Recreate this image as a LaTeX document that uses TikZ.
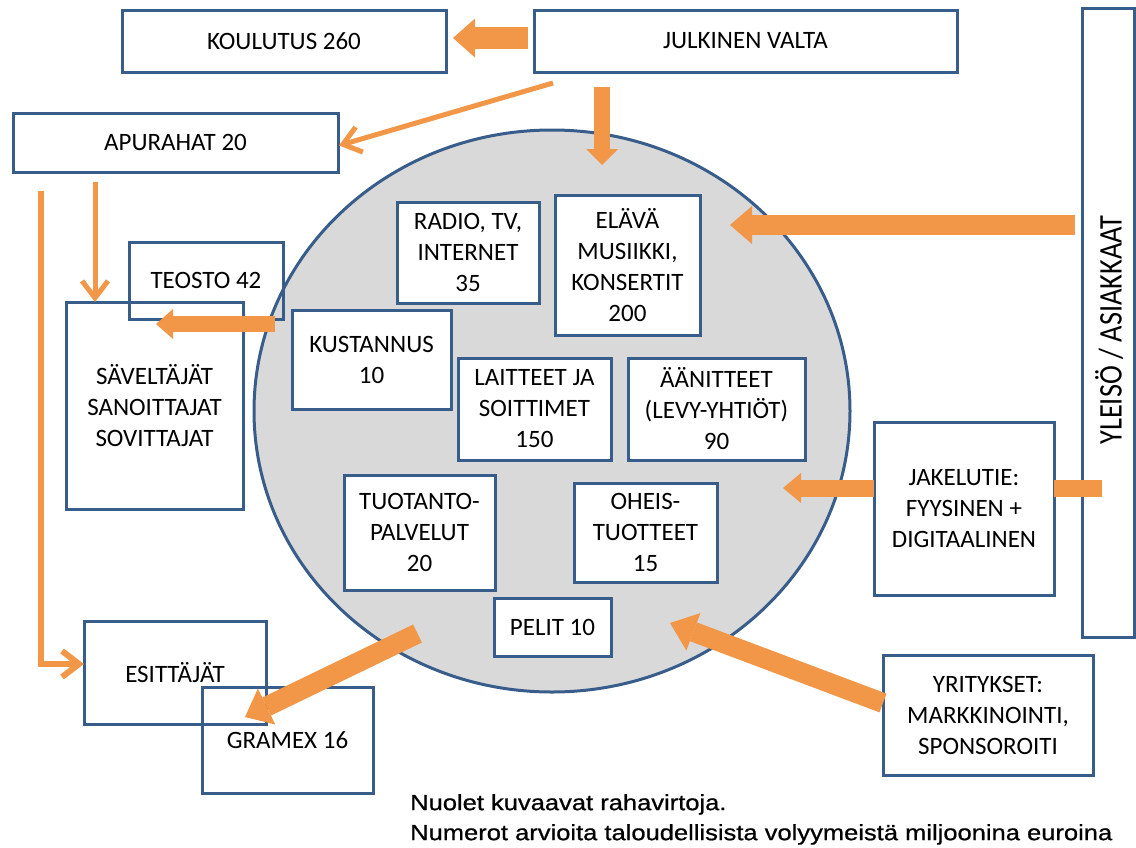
\documentclass[tikz,border=0pt]{standalone}
\usepackage{fontspec}
\setmainfont{Carlito}
\newfontfamily\huomautusfont[FakeStretch=1.16, FakeBold=0.8]{Liberation Sans}
\newfontfamily\yleisofont[FakeStretch=0.86]{Carlito}
\usetikzlibrary{arrows.meta, shapes.geometric}
\definecolor{sininen}{RGB}{56,93,138}
\definecolor{oranssi}{RGB}{242,150,72}
\definecolor{harmaa}{RGB}{217,217,217}
\newcommand{\laatikkofont}{\fontsize{25}{31}\selectfont}

\begin{document}
\begin{tikzpicture}[x=1pt, y=-1pt,
        laatikko/.style={draw=sininen, line width=3pt, inner sep=0pt, outer sep=0pt, align=center, font=\laatikkofont},
        sisa/.style={laatikko, fill=white},
        virta/.style n args={3}{draw=oranssi, line width=#1, -{Triangle[length=#3, width=#2, line width=0pt]}},
        ohut/.style={draw=oranssi, line width=5pt, -{Straight Barb[length=17pt, width=26pt]}}]
        \useasboundingbox (0,0) rectangle (1136,847);

        % musiikkiala
        \node[ellipse, draw=sininen, fill=harmaa, line width=3pt, inner sep=0pt, outer sep=0pt, minimum width=596pt, minimum height=562pt] (ydin) at (552,411) {};

        \node[laatikko, minimum width=324pt, minimum height=62pt] (koulutus) at (284,41) {KOULUTUS 260};
        \node[laatikko, minimum width=423pt, minimum height=62pt] (julkinen) at (745.5,41) {JULKINEN VALTA};
        \node[laatikko, minimum width=325pt, minimum height=59pt] (apurahat) at (175.5,142.5) {APURAHAT 20};
        \node[laatikko, minimum width=154pt, minimum height=77pt] (teosto) at (206,280.5) {TEOSTO 42};
        \node[laatikko, minimum width=177pt, minimum height=207pt] (saveltajat) at (154.5,405.5) {SÄVELTÄJÄT\\SANOITTAJAT\\SOVITTAJAT};
        \node[laatikko, minimum width=182pt, minimum height=103pt] (esittajat) at (175,672.5) {ESITTÄJÄT};
        \node[laatikko, minimum width=171pt, minimum height=106pt] (gramex) at (287.5,740) {GRAMEX 16};

        \node[sisa, minimum width=142pt, minimum height=101pt] (radio) at (468,252.5) {RADIO, TV,\\INTERNET\\35};
        \node[sisa, minimum width=145pt, minimum height=140pt] (elava) at (627.5,265) {ELÄVÄ\\MUSIIKKI,\\KONSERTIT\\200};
        \node[sisa, minimum width=159pt, minimum height=99pt] (kustannus) at (371.5,359.5) {KUSTANNUS\\10};
        \node[sisa, minimum width=153pt, minimum height=102pt] (laitteet) at (534.5,409) {LAITTEET JA\\SOITTIMET\\150};
        \node[sisa, minimum width=177pt, minimum height=102pt] (aanitteet) at (716.5,409) {ÄÄNITTEET\\(LEVY-YHTIÖT)\\90};
        \node[sisa, minimum width=151pt, minimum height=115pt] (tuotanto) at (419.5,532.5) {TUOTANTO-\\PALVELUT\\20};
        \node[sisa, minimum width=143pt, minimum height=99pt] (oheis) at (645.5,532.5) {OHEIS-\\TUOTTEET\\15};
        \node[sisa, minimum width=117pt, minimum height=58pt] (pelit) at (552.5,627) {PELIT 10};

        \node[laatikko, minimum width=180pt, minimum height=173pt] (jakelutie) at (964,508.5) {JAKELUTIE:\\FYYSINEN +\\DIGITAALINEN};
        \node[laatikko, minimum width=210pt, minimum height=120pt] (yritykset) at (988,715) {YRITYKSET:\\MARKKINOINTI,\\SPONSOROITI};
        \node[laatikko, minimum width=52pt, minimum height=629pt] (yleiso) at (1108,322.5) {};
        \node[rotate=90, inner sep=0pt, font=\yleisofont\fontsize{33}{33}\selectfont] (yleisoteksti) at (1109,330) {YLEISÖ / ASIAKKAAT};

        \node[anchor=north west, align=left, inner sep=0pt, font=\huomautusfont\fontsize{22}{30}\selectfont] (huomautus) at (410,794) {Nuolet kuvaavat rahavirtoja.\\Numerot arvioita taloudellisista volyymeistä miljoonina euroina};

        % rahavirrat
        \draw[virta={22pt}{39pt}{22pt}] ([shift={(-6,-3)}]julkinen.west) -- ([shift={(7,-3)}]koulutus.east);
        \draw[virta={16pt}{32pt}{16pt}] ([shift={(-143.5,15)}]julkinen.south) -- ([shift={(50,35)}]ydin.north);
        \draw[virta={20pt}{38pt}{22pt}] ([shift={(-7,-97.5)}]yleiso.west) -- ([shift={(30,-40)}]elava.east);
        \draw[virta={16pt}{30pt}{17pt}] ([shift={(21,-87)}]ydin.west) -- ([shift={(27,5)}]teosto.south west);
        \draw[virta={17pt}{30pt}{18pt}] ([shift={(0,-20.5)}]jakelutie.west) -- ([shift={(-67,77)}]ydin.east);
        \draw[draw=oranssi, line width=17pt] ([shift={(20,165.5)}]yleiso.west) -- ([shift={(0,-20.5)}]jakelutie.east);
        \draw[virta={20pt}{40pt}{24pt}] ([shift={(-134.5,222.5)}]ydin.center) -- ([shift={(-42.5,30)}]gramex.north);
        \draw[virta={20pt}{40pt}{25pt}] ([shift={(0,-12)}]yritykset.west) -- ([shift={(118,212)}]ydin.center);

        \draw[ohut] ([shift={(19,11)}]julkinen.south west) -- ([shift={(1,3)}]apurahat.east);
        \draw[ohut] ([shift={(82,10)}]apurahat.south west) -- ([shift={(29,0)}]saveltajat.north west);
        \draw[ohut, line width=6pt] ([shift={(28,19)}]apurahat.south west) |- ([shift={(0,-8.5)}]esittajat.west);
\end{tikzpicture}
\end{document}
